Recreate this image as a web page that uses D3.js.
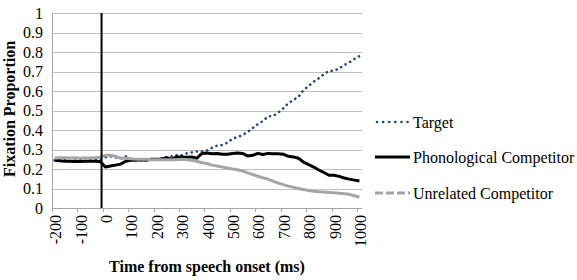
<!DOCTYPE html>
<html><head><meta charset="utf-8">
<script src="https://cdn.jsdelivr.net/npm/d3@7"></script>
<style>body{margin:0;background:#fff}</style>
</head><body><svg id="c" width="577" height="280"></svg>
<script>
const times = d3.range(-200, 1001, 20);
const target = [.245,.245,.245,.24,.245,.245,.24,.245,.245,.25,.26,.265,.26,.255,.265,.25,.245,.245,.25,.25,.25,.255,.26,.265,.27,.27,.28,.285,.29,.29,.295,.31,.32,.323,.335,.355,.364,.374,.39,.41,.43,.446,.47,.472,.489,.511,.537,.554,.571,.605,.626,.648,.665,.686,.703,.703,.716,.733,.747,.764,.779];
const phonological = [.245,.242,.24,.24,.238,.238,.24,.24,.24,.238,.21,.215,.22,.225,.24,.245,.245,.248,.245,.25,.25,.25,.258,.25,.262,.262,.26,.262,.255,.28,.282,.278,.28,.276,.276,.28,.282,.28,.267,.27,.28,.274,.28,.278,.278,.276,.265,.262,.255,.235,.222,.21,.195,.182,.168,.168,.162,.154,.148,.143,.138];
const unrelated = [.255,.258,.258,.256,.258,.255,.256,.256,.258,.26,.27,.27,.265,.255,.255,.252,.25,.25,.25,.248,.248,.248,.248,.248,.247,.25,.248,.245,.24,.232,.228,.22,.215,.21,.205,.2,.196,.19,.18,.172,.163,.155,.148,.138,.128,.12,.112,.106,.1,.095,.09,.086,.083,.082,.08,.078,.076,.073,.07,.063,.055];
const yTicks = [0,0.1,0.2,0.3,0.4,0.5,0.6,0.7,0.8,0.9,1];
const xTickLabels = [-200,-100,0,100,200,300,400,500,600,700,800,900,1000];
const onsetMarker = -15;
const seriesNames = ["Target","Phonological Competitor","Unrelated Competitor"];

const FONT = "'Times New Roman', 'Liberation Serif', Times, 'DejaVu Serif', serif";
const svg = d3.select("#c");
const x = d3.scaleLinear().domain([-210, 1010]).range([52, 362]);
const y = d3.scaleLinear().domain([0, 1]).range([208, 13]);

svg.append("g").selectAll("line").data(yTicks.slice(1)).join("line")
  .attr("x1", 52).attr("x2", 362)
  .attr("y1", d => Math.round(y(d)) + 0.5).attr("y2", d => Math.round(y(d)) + 0.5)
  .attr("stroke", "#BFBFBF").attr("stroke-width", 1);

svg.append("line").attr("x1", 52.5).attr("x2", 52.5).attr("y1", y(1)).attr("y2", y(0))
  .attr("stroke", "#A6A6A6");
svg.append("g").selectAll("text").data(yTicks).join("text")
  .attr("x", 43).attr("y", d => y(d)).attr("dy", "0.35em")
  .attr("text-anchor", "end").attr("font-family", FONT).attr("font-size", 16)
  .text(d => d3.format("~g")(d));

svg.append("line").attr("x1", 52).attr("x2", 362)
  .attr("y1", Math.round(y(0)) + 0.5).attr("y2", Math.round(y(0)) + 0.5)
  .attr("stroke", "#A6A6A6");
const tickPos = d3.range(-210, 1011, 100);
svg.append("g").selectAll("line").data(tickPos).join("line")
  .attr("x1", d => Math.round(x(d)) + 0.5).attr("x2", d => Math.round(x(d)) + 0.5)
  .attr("y1", y(0)).attr("y2", y(0) + 4)
  .attr("stroke", "#A6A6A6");
svg.append("g").selectAll("text").data(xTickLabels).join("text")
  .attr("transform", d => `translate(${x(d) + 1},215) rotate(-90)`)
  .attr("dy", "0.35em").attr("text-anchor", "end").attr("font-family", FONT).attr("font-size", 16)
  .text(d => d);

svg.append("text").attr("x", 207).attr("y", 272).attr("text-anchor", "middle")
  .attr("font-family", FONT).attr("font-size", 16).attr("font-weight", "bold").text("Time from speech onset (ms)");
svg.append("text").attr("transform", "translate(15,109) rotate(-90)").attr("text-anchor", "middle")
  .attr("font-family", FONT).attr("font-size", 16).attr("font-weight", "bold").text("Fixation Proportion");

const line = d3.line().x((d, i) => x(times[i])).y(d => y(d));
const styles = [
  {data: target, color: "#1F497D", width: 2.6, dash: "0.1 5.1", cap: "round"},
  {data: phonological, color: "#000000", width: 3, dash: null, cap: "butt"},
  {data: unrelated, color: "#A5A5A5", width: 3, dash: null, cap: "butt"}
];
styles.forEach(s => {
  svg.append("path").datum(s.data).attr("d", line)
    .attr("fill", "none").attr("stroke", s.color).attr("stroke-width", s.width)
    .attr("stroke-dasharray", s.dash).attr("stroke-linecap", s.cap).attr("stroke-linejoin", "round");
});

svg.append("line").attr("x1", x(onsetMarker)).attr("x2", x(onsetMarker))
  .attr("y1", y(1)).attr("y2", y(0)).attr("stroke", "#000").attr("stroke-width", 2);

const legY = [122, 157, 193];
const legStyles = [
  {color: "#1F497D", width: 2.6, dash: "0.1 6", cap: "round"},
  {color: "#000000", width: 3, dash: null, cap: "butt"},
  {color: "#A5A5A5", width: 3, dash: "8 3", cap: "butt"}
];
seriesNames.forEach((n, i) => {
  const s = legStyles[i];
  svg.append("line").attr("x1", i === 0 ? 377 : 375).attr("x2", 410).attr("y1", legY[i]).attr("y2", legY[i])
    .attr("stroke", s.color).attr("stroke-width", s.width).attr("stroke-dasharray", s.dash)
    .attr("stroke-linecap", s.cap);
  svg.append("text").attr("x", 413).attr("y", legY[i]).attr("dy", "0.35em")
    .attr("font-family", FONT).attr("font-size", 16).text(n);
});
</script></body></html>
